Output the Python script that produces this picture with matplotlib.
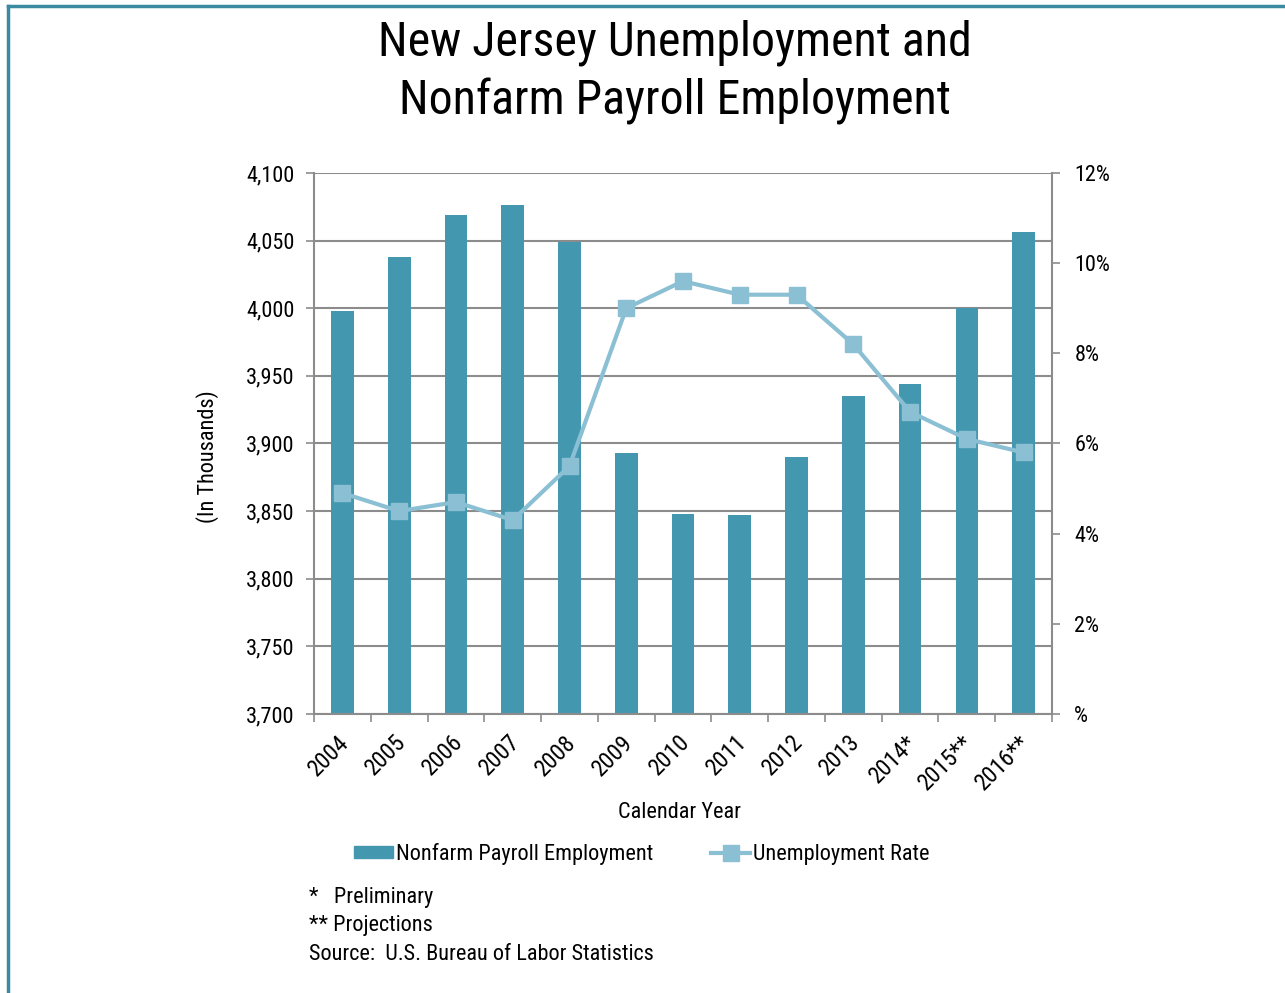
import matplotlib.pyplot as plt
import matplotlib.patches as mpatches
import matplotlib.transforms as mtransforms
from matplotlib.ticker import FuncFormatter, FixedLocator

years = ['2004', '2005', '2006', '2007', '2008', '2009', '2010', '2011',
         '2012', '2013', '2014*', '2015**', '2016**']
payroll = [3998, 4038, 4069, 4076, 4049, 3893, 3848, 3847, 3890, 3935,
           3944, 4000, 4056]
unemp_rate = [4.9, 4.5, 4.7, 4.3, 5.5, 9.0, 9.6, 9.3, 9.3, 8.2, 6.7, 6.1, 5.8]

bar_color = '#4398b0'
line_color = '#8bc0d4'
grid_color = '#8c8c8c'

plt.rcParams['font.family'] = ['Roboto Condensed', 'DejaVu Sans']

fig = plt.figure(figsize=(12.85, 9.93), dpi=100)
ax = fig.add_axes([0.2444, 0.2810, 0.5743, 0.5448])
x = list(range(len(years)))

ax.bar(x, payroll, width=0.40, color=bar_color, zorder=2)
ax.set_ylim(3700, 4100)
ax.set_xlim(-0.5, len(years) - 0.5)
ax.set_yticks(range(3700, 4101, 50))
ax.yaxis.set_major_formatter(FuncFormatter(lambda v, p: f'{int(v):,}'))
ax.grid(axis='y', color=grid_color, linewidth=1.5, zorder=0)
ax.tick_params(axis='y', length=6, width=1.2, color=grid_color, labelsize=16, pad=8)

# category labels at the centers, tick marks between categories
ax.set_xticks(x)
ax.set_xticklabels(years, rotation=45, ha='right', rotation_mode='anchor', fontsize=17)
ax.tick_params(axis='x', which='major', length=0, pad=12)
shift = mtransforms.ScaledTranslation(-5 / 100, 0, fig.dpi_scale_trans)
for lbl in ax.get_xticklabels():
    lbl.set_transform(lbl.get_transform() + shift)
ax.xaxis.set_minor_locator(FixedLocator([i - 0.5 for i in range(len(years) + 1)]))
ax.tick_params(axis='x', which='minor', length=6, width=1.2, color=grid_color)

for side in ['top', 'right']:
    ax.spines[side].set_visible(False)
for side in ['left', 'bottom']:
    ax.spines[side].set_color(grid_color)
    ax.spines[side].set_linewidth(1.5)

ax2 = ax.twinx()
ax2.plot(x, unemp_rate, color=line_color, linewidth=3, marker='s',
         markersize=12, zorder=3)
ax2.set_ylim(0, 12)
ax2.set_yticks(range(0, 13, 2))
ax2.yaxis.set_major_formatter(FuncFormatter(lambda v, p: '%' if v == 0 else f'{int(v)}%'))
ax2.tick_params(axis='y', length=6, width=1.2, color=grid_color, labelsize=16, pad=10)
for side in ['top', 'left', 'bottom']:
    ax2.spines[side].set_visible(False)
ax2.spines['right'].set_color(grid_color)
ax2.spines['right'].set_linewidth(1.5)

fig.text(208 / 1285, 1 - 457 / 993, '(In Thousands)', rotation=90,
         ha='center', va='center', fontsize=16)
fig.text(680 / 1285, 1 - 812 / 993, 'Calendar Year', ha='center', va='center',
         fontsize=16)

fig.text(0.525, 1 - 43 / 993, 'New Jersey Unemployment and',
         ha='center', va='center', fontsize=34.5)
fig.text(0.525, 1 - 101 / 993, 'Nonfarm Payroll Employment',
         ha='center', va='center', fontsize=34.5)

bar_handle = mpatches.Patch(color=bar_color)
line_handle = plt.Line2D([], [], color=line_color, linewidth=3, marker='s',
                         markersize=12)
fig.legend([bar_handle, line_handle],
           ['Nonfarm Payroll Employment', 'Unemployment Rate'],
           loc='center', bbox_to_anchor=(642 / 1285, 1 - 854 / 993), ncol=2,
           frameon=False, fontsize=16, handlelength=1.75, handleheight=0.5,
           handletextpad=0.15, columnspacing=2.6)

fig.text(0.2405, 1 - 897 / 993, '*   Preliminary', fontsize=16, va='center')
fig.text(0.2405, 1 - 926 / 993, '** Projections', fontsize=16, va='center')
fig.text(0.2405, 1 - 954 / 993, 'Source:  U.S. Bureau of Labor Statistics',
         fontsize=16, va='center')

# frame around the chart
fig.add_artist(plt.Line2D([8 / 1285, 8 / 1285], [0, 1 - 6 / 993],
                          color='#3a8aa0', linewidth=2.5))
fig.add_artist(plt.Line2D([8 / 1285, 1], [1 - 6 / 993, 1 - 6 / 993],
                          color='#3a8aa0', linewidth=2.5))

fig.savefig('out.png', dpi=100)
